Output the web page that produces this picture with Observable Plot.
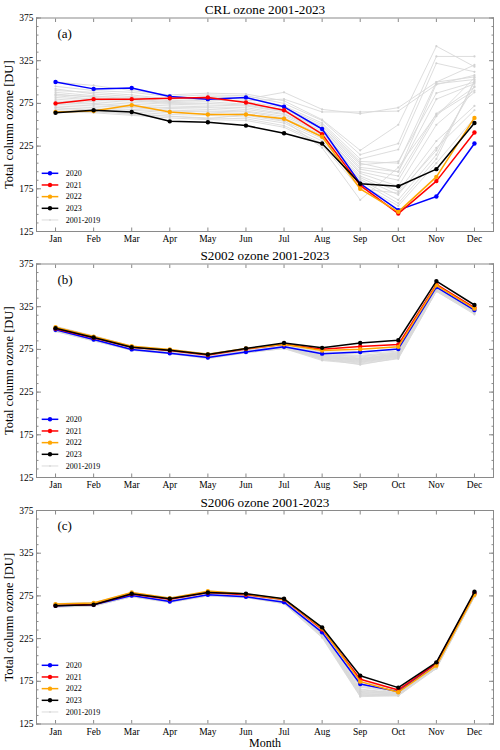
<!DOCTYPE html>
<html><head><meta charset="utf-8">
<script src="https://cdn.jsdelivr.net/npm/d3@7"></script>
<script src="https://cdn.jsdelivr.net/npm/@observablehq/plot@0.6"></script>
<style>
body{margin:0;background:#fff;}
#page{position:relative;width:500px;height:750px;overflow:hidden;font-family:"Liberation Serif","Times New Roman",serif;}
.panel{position:absolute;left:0;}
.legend{position:absolute;overflow:visible;}
</style></head><body><div id="page"></div>
<script>
const months = ["Jan","Feb","Mar","Apr","May","Jun","Jul","Aug","Sep","Oct","Nov","Dec"];
const hiYears = ["2020","2021","2022","2023"];
const hiColors = ["#0000ff","#ff0000","#ffa500","#000000"];
const grayName = "2001-2019";
const grayYears = ["2001","2002","2003","2004","2005","2006","2007","2008","2009","2010","2011","2012","2013","2014","2015","2016","2017","2018","2019"];
const yMajor = [125,175,225,275,325,375];

// Panel (a) CRL
const crl2020 = [300,292,293,283,280,282,271,245,181,150,166,228];
const crl2021 = [275,280,280,281,282,276,267,239,179,146,184,241];
const crl2022 = [265,266,273,265,262,262,257,236,175,148,189,258];
const crl2023 = [264,267,265,254,253,249,240,228,181,178,198,252];
const crlGray = [
  [290,288,285,280,282,280,288,268,263,270,300,320],
  [285,283,282,278,280,278,280,265,265,266,297,308],
  [300,296,290,285,287,286,278,256,220,250,342,318],
  [295,290,288,283,285,284,275,255,215,228,330,330],
  [292,286,283,280,283,282,272,252,210,221,322,312],
  [288,284,280,277,279,277,270,250,207,205,300,306],
  [286,282,279,276,277,274,268,248,205,195,298,303],
  [284,280,278,275,275,273,266,246,203,207,287,300],
  [282,279,276,274,273,272,265,245,200,195,280,298],
  [280,277,274,272,271,270,263,243,198,190,263,294],
  [278,275,272,270,270,268,262,241,195,185,260,305],
  [276,274,271,269,268,266,260,240,193,178,250,288],
  [274,272,270,267,266,265,258,238,190,172,231,272],
  [272,270,268,266,265,263,256,236,188,168,223,267],
  [270,268,267,264,263,261,254,234,186,162,215,300],
  [268,266,265,262,261,259,252,231,184,158,210,302],
  [266,265,263,260,258,257,249,228,180,155,205,258],
  [265,264,261,258,256,255,247,226,175,170,220,295],
  [270,267,262,260,257,262,255,223,162,200,262,290]
];

// Panel (b) S2002
const s02_2020 = [298,286.5,275,270.5,265.5,272,278,270,272,275.5,348,321];
const s02_2021 = [299.3,288.5,277.6,273.7,268.3,275.6,281,275.3,278.4,280.7,351,323.8];
const s02_2022 = [301,290,278.8,275,269.4,276,281,273.7,275.3,278,350,322.7];
const s02_2023 = [299.7,289,277.6,274.1,269,276,282.6,276.8,282.6,285.7,355,327];
const s02Gray = [
  [297,286,274,270,265,271,277,266,262,268,346,319],
  [298,287,275,271,266,272,278,268,265,270,347,320],
  [299,288,276,272,267,273,279,264,260,266,345,318],
  [300,289,277,273,268,274,280,267,263,269,348,321],
  [301,290,278,274,269,275,281,270,268,272,349,322],
  [296,285,274,270,264,271,276,262,258,264,343,317],
  [298,288,276,271,266,272,277,265,261,267,346,319],
  [299,289,277,273,268,274,279,269,266,271,348,321],
  [300,287,275,272,267,273,278,263,259,265,344,318],
  [297,286,275,271,266,272,277,267,264,269,347,320],
  [301,290,278,274,269,275,281,271,270,273,350,323],
  [302,291,279,275,270,276,282,272,272,275,351,324],
  [296,285,274,270,265,271,276,264,257,265,343,316],
  [298,288,276,272,267,273,279,266,262,268,346,319],
  [299,289,277,272,268,273,279,268,264,270,347,320],
  [300,288,276,273,266,274,278,265,261,267,345,319],
  [297,287,275,271,266,272,277,263,260,266,344,318],
  [301,290,278,273,269,275,280,269,267,271,349,322],
  [298,287,276,272,267,273,278,266,263,268,346,320]
];

// Panel (c) S2006
const s06_2020 = [263.4,264.6,275.5,268.5,276.3,274,267.7,232.3,171.9,162.9,196,277.9];
const s06_2021 = [263.8,265,277.1,271.2,279,276.3,270.9,235.8,177.4,164.9,196,278.3];
const s06_2022 = [265.4,266.6,279,272.4,280.6,277.1,271.2,237,174.6,162.2,193.3,276.3];
const s06_2023 = [263.4,264.6,277.5,271.6,279,277.5,271.6,238.1,181.6,167.6,197.2,279.8];
const s06Gray = [
  [263,264,275,268,276,274,267,230,165,161,193,276],
  [264,265,276,269,277,275,268,232,168,162,194,277],
  [265,266,277,270,278,276,269,228,160,159,191,275],
  [262,263,274,267,275,273,266,226,157,158,190,274],
  [266,267,278,272,279,277,270,234,172,163,195,278],
  [263,265,276,270,277,275,268,231,163,160,192,276],
  [264,266,277,271,278,276,269,233,170,164,196,277],
  [265,264,275,269,276,274,267,229,159,158,191,275],
  [262,263,274,268,275,273,266,227,158,159,190,274],
  [266,267,279,273,280,278,271,235,175,165,197,279],
  [263,264,276,269,277,275,268,230,162,160,192,276],
  [264,265,277,270,278,276,269,232,166,161,193,277],
  [265,266,276,271,277,275,268,231,164,162,194,276],
  [263,264,275,268,276,274,267,229,161,159,191,275],
  [264,265,276,270,277,275,268,233,169,163,195,277],
  [262,264,274,268,275,274,266,228,158,160,190,274],
  [265,266,278,271,279,277,270,234,171,164,196,278],
  [264,265,277,270,278,276,269,231,163,161,193,276],
  [263,264,275,269,276,275,267,230,160,160,192,275]
];

const panels = [
  {title:"CRL ozone 2001-2023", tag:"(a)", hi:[crl2020,crl2021,crl2022,crl2023], gray:crlGray, top:0, mt:17.5, mb:14.5, xlabel:null},
  {title:"S2002 ozone 2001-2023", tag:"(b)", hi:[s02_2020,s02_2021,s02_2022,s02_2023], gray:s02Gray, top:245.5, mt:17.5, mb:14.5, xlabel:null},
  {title:"S2006 ozone 2001-2023", tag:"(c)", hi:[s06_2020,s06_2021,s06_2022,s06_2023], gray:s06Gray, top:491.5, mt:18, mb:27, xlabel:"Month"}
];

const frameH = 213.5;
const mL = 36, mR = 7;
const monthIdx = months.map((m,i)=>i+1);
const yMinor = [];
for (let v = 125; v <= 375; v += 10) yMinor.push(v);
const tickColor = "#8a8a8a";
const page = document.getElementById("page");

function toRows(arr, year){ return arr.map((v,i)=>({month:i+1, value:v, year})); }

panels.forEach(p => {
  const H = p.mt + frameH + p.mb;
  const grayData = p.gray.flatMap((arr,k)=>toRows(arr, grayYears[k]));
  const hiMarks = p.hi.flatMap((arr,k)=>{
    const rows = toRows(arr, hiYears[k]);
    return [
      Plot.line(rows,{x:"month",y:"value",stroke:hiColors[k],strokeWidth:1.5}),
      Plot.dot(rows,{x:"month",y:"value",r:2.2,fill:hiColors[k],stroke:"none"})
    ];
  });
  const noText = ()=>"";
  const marks = [
    Plot.line(grayData,{x:"month",y:"value",z:"year",stroke:"#d9d9d9",strokeWidth:0.9}),
    Plot.dot(grayData,{x:"month",y:"value",r:1.1,fill:"#d2d2d2",stroke:"none"}),
    ...hiMarks,
    Plot.frame({stroke:tickColor,strokeWidth:1}),
    Plot.axisX({anchor:"bottom",ticks:monthIdx,tickFormat:i=>months[i-1],tickSize:0,tickPadding:4,label:null,fontSize:9.5}),
    Plot.axisX({anchor:"bottom",ticks:monthIdx,tickFormat:noText,tickSize:-3.5,label:null,stroke:tickColor}),
    Plot.axisX({anchor:"top",ticks:monthIdx,tickFormat:noText,tickSize:-3.5,label:null,stroke:tickColor}),
    Plot.axisY({anchor:"left",ticks:yMajor,tickSize:0,tickPadding:3,label:null,fontSize:9.5}),
    Plot.axisY({anchor:"left",ticks:yMinor,tickFormat:noText,tickSize:-2.5,label:null,stroke:tickColor}),
    Plot.axisY({anchor:"left",ticks:yMajor,tickFormat:noText,tickSize:-5,label:null,stroke:tickColor}),
    Plot.axisY({anchor:"right",ticks:yMinor,tickFormat:noText,tickSize:-2.5,label:null,stroke:tickColor}),
    Plot.axisY({anchor:"right",ticks:yMajor,tickFormat:noText,tickSize:-5,label:null,stroke:tickColor}),
    Plot.text([p.title],{frameAnchor:"top",dy:-8,fontSize:13.2,textAnchor:"middle",lineAnchor:"middle",fill:"#000"}),
    Plot.text([p.tag],{frameAnchor:"top-left",dx:21,dy:15.6,fontSize:13,textAnchor:"start",lineAnchor:"middle",fill:"#000"}),
    Plot.text(["Total column ozone [DU]"],{frameAnchor:"left",dx:-28,rotate:-90,fontSize:12.5,textAnchor:"middle",lineAnchor:"middle",fill:"#000"})
  ];
  if (p.xlabel) marks.push(Plot.text([p.xlabel],{frameAnchor:"bottom",dy:18.7,fontSize:12,textAnchor:"middle",lineAnchor:"middle",fill:"#000"}));
  const chart = Plot.plot({
    width:500, height:H, marginLeft:mL, marginRight:mR, marginTop:p.mt, marginBottom:p.mb,
    style:{fontFamily:"'Liberation Serif','Times New Roman',serif",fontSize:"9.5px",color:"#000",background:"transparent",overflow:"visible"},
    x:{domain:[0.5,12.5]}, y:{domain:[125,375]},
    marks
  });
  const wrap = document.createElement("div");
  wrap.className = "panel";
  wrap.style.top = p.top + "px";
  wrap.appendChild(chart);
  page.appendChild(wrap);

  // legend overlay inside the frame, lower left
  const frameBottom = p.top + p.mt + frameH;
  const entries = hiYears.map((y,k)=>({label:y,color:hiColors[k],w:1.5,r:2.2}))
    .concat([{label:grayName,color:"#dcdcdc",w:1,r:1.1}]);
  const ns = "http://www.w3.org/2000/svg";
  const lg = document.createElementNS(ns,"svg");
  lg.setAttribute("class","legend");
  lg.setAttribute("width","110"); lg.setAttribute("height","64");
  lg.style.left = mL + "px";
  lg.style.top = (frameBottom - 64) + "px";
  entries.forEach((e,k)=>{
    const cy = 64 - 57.7 + 11.67*k;
    const ln = document.createElementNS(ns,"line");
    ln.setAttribute("x1",5.7); ln.setAttribute("x2",22.3);
    ln.setAttribute("y1",cy); ln.setAttribute("y2",cy);
    ln.setAttribute("stroke",e.color); ln.setAttribute("stroke-width",e.w);
    lg.appendChild(ln);
    const c = document.createElementNS(ns,"circle");
    c.setAttribute("cx",14); c.setAttribute("cy",cy); c.setAttribute("r",e.r);
    c.setAttribute("fill",e.color);
    lg.appendChild(c);
    const t = document.createElementNS(ns,"text");
    t.setAttribute("x",29.7); t.setAttribute("y",cy+2.8);
    t.setAttribute("font-size","8"); t.setAttribute("fill","#000");
    t.setAttribute("font-family","'Liberation Serif','Times New Roman',serif");
    t.textContent = e.label;
    lg.appendChild(t);
  });
  page.appendChild(lg);
});
</script></body></html>
